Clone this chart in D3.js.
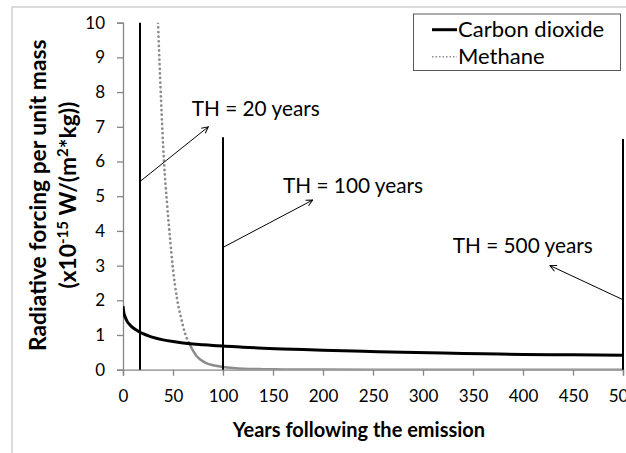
<!DOCTYPE html>
<html>
<head>
<meta charset="utf-8">
<script src="https://cdn.jsdelivr.net/npm/d3@7"></script>
<style>
  body { margin: 0; background: #fff; }
  text { font-family: Lato, "Open Sans", sans-serif; }
</style>
</head>
<body>
<div id="chart"></div>
<script>
// values
const co2Years = [0, 1, 2, 4, 7, 10, 13, 17, 20, 25, 30, 40, 50, 60, 70, 80, 90, 100, 120, 140, 160, 180, 200, 240, 280, 320, 360, 400, 450, 500];
const co2Values = [1.83, 1.62, 1.53, 1.40, 1.29, 1.21, 1.15, 1.08, 1.04, 0.98, 0.93, 0.86, 0.81, 0.77, 0.74, 0.72, 0.70, 0.68, 0.65, 0.62, 0.60, 0.58, 0.56, 0.53, 0.50, 0.48, 0.46, 0.44, 0.43, 0.42];

const ch4Years = [35, 38, 41, 44, 47, 50, 54, 58, 62, 66, 70, 74, 80, 85, 90, 100, 110, 120, 140, 160, 200, 300, 400, 500];
const ch4Values = [10, 7.8, 6.0, 4.8, 3.8, 2.9, 2.05, 1.5, 1.05, 0.77, 0.55, 0.38, 0.24, 0.17, 0.13, 0.08, 0.05, 0.03, 0.015, 0.008, 0.003, 0, 0, 0];
const ch4DottedUntil = 66;

const horizonYears = [17, 100, 500];
const horizonTops = [10, 6.7, 6.65];
const horizonLabels = ["TH = 20 years", "TH = 100 years", "TH = 500 years"];
// arrow from [year, value] to [year, value], label anchor [year, value]
const arrowFrom = [[17.7, 5.44], [101, 3.54], [499, 2.03]];
const arrowTo = [[85.3, 7.0], [189.7, 4.89], [427, 3.0]];
const labelAt = [[68.7, 7.32], [160, 5.09], [329.7, 3.35]];

const xTicks = [0, 50, 100, 150, 200, 250, 300, 350, 400, 450, 500];
const yTicks = [0, 1, 2, 3, 4, 5, 6, 7, 8, 9, 10];
const seriesNames = ["Carbon dioxide", "Methane"];

const width = 626, height = 453;
const plot = { left: 123, right: 623, top: 22.7, bottom: 369.7 };

const svg = d3.select("#chart").append("svg")
  .attr("width", width).attr("height", height);

// outer chart border
svg.append("rect")
  .attr("x", 12).attr("y", 7).attr("width", 700).attr("height", 500)
  .attr("fill", "none").attr("stroke", "#cfcfcf").attr("stroke-width", 1.5);

const x = d3.scaleLinear().domain([0, 500]).range([plot.left, plot.right]);
const y = d3.scaleLinear().domain([0, 10]).range([plot.bottom, plot.top]);

const defs = svg.append("defs");
defs.append("clipPath").attr("id", "plot-clip")
  .append("rect")
  .attr("x", plot.left).attr("y", plot.top)
  .attr("width", plot.right - plot.left + 2).attr("height", plot.bottom - plot.top);

defs.append("marker")
  .attr("id", "arrow")
  .attr("viewBox", "0 0 10 10")
  .attr("refX", 9).attr("refY", 5)
  .attr("markerWidth", 8).attr("markerHeight", 8)
  .attr("markerUnits", "userSpaceOnUse")
  .attr("orient", "auto")
  .append("path")
  .attr("d", "M1,1 L9,5 L1,9")
  .attr("fill", "none").attr("stroke", "#000").attr("stroke-width", 1.2);

// axes
const xAxis = svg.append("g")
  .attr("transform", `translate(0,${plot.bottom})`)
  .call(d3.axisBottom(x).tickValues(xTicks).tickSize(6).tickPadding(14));
const yAxis = svg.append("g")
  .attr("transform", `translate(${plot.left},0)`)
  .call(d3.axisLeft(y).tickValues(yTicks).tickSize(6).tickPadding(12));

[xAxis, yAxis].forEach((g) => {
  g.select(".domain").attr("stroke", "#868686").attr("stroke-width", 1.3);
  g.selectAll(".tick line").attr("stroke", "#868686").attr("stroke-width", 1.3);
  g.selectAll(".tick text")
    .attr("font-family", "Lato, sans-serif")
    .attr("font-size", 17)
    .attr("fill", "#000");
});

// series
const co2 = co2Years.map((yr, i) => [yr, co2Values[i]]);
const ch4 = ch4Years.map((yr, i) => [yr, ch4Values[i]]);

const line = d3.line()
  .x((d) => x(d[0]))
  .y((d) => y(d[1]))
  .curve(d3.curveMonotoneX);

const lines = svg.append("g").attr("clip-path", "url(#plot-clip)");

lines.append("path")
  .datum(ch4.filter((d) => d[0] >= ch4DottedUntil))
  .attr("d", line)
  .attr("fill", "none")
  .attr("stroke", "#8c8c8c")
  .attr("stroke-width", 2.5);

lines.append("path")
  .datum(ch4.filter((d) => d[0] <= ch4DottedUntil))
  .attr("d", line)
  .attr("fill", "none")
  .attr("stroke", "#8c8c8c")
  .attr("stroke-width", 2.7)
  .attr("stroke-linecap", "round")
  .attr("stroke-dasharray", "0.1 4.5");

lines.append("path")
  .datum(co2)
  .attr("d", line)
  .attr("fill", "none")
  .attr("stroke", "#000")
  .attr("stroke-width", 3);

// time horizon markers
horizonYears.forEach((yr, i) => {
  svg.append("line")
    .attr("x1", x(yr)).attr("x2", x(yr))
    .attr("y1", y(0)).attr("y2", y(horizonTops[i]))
    .attr("stroke", "#000").attr("stroke-width", 2);

  svg.append("line")
    .attr("x1", x(arrowFrom[i][0])).attr("y1", y(arrowFrom[i][1]))
    .attr("x2", x(arrowTo[i][0])).attr("y2", y(arrowTo[i][1]))
    .attr("stroke", "#000").attr("stroke-width", 1)
    .attr("marker-end", "url(#arrow)");

  svg.append("text")
    .attr("x", x(labelAt[i][0])).attr("y", y(labelAt[i][1]))
    .attr("font-size", 20.8)
    .attr("fill", "#000")
    .text(horizonLabels[i]);
});

// axis titles
svg.append("text")
  .attr("x", 359).attr("y", 437)
  .attr("text-anchor", "middle")
  .attr("font-size", 20)
  .attr("font-weight", "bold")
  .text("Years following the emission");

const yTitle = svg.append("text")
  .attr("transform", `translate(0,${(plot.top + plot.bottom) / 2 - 1}) rotate(-90)`)
  .attr("text-anchor", "middle")
  .attr("font-size", 22.8)
  .attr("font-weight", "bold");
yTitle.append("tspan").attr("x", 0).attr("y", 46).text("Radiative forcing per unit mass");
const l2 = yTitle.append("tspan").attr("x", 0).attr("y", 76);
l2.append("tspan").text("(x10");
l2.append("tspan").attr("dy", -8).attr("font-size", 15).text("-15");
l2.append("tspan").attr("dy", 8).text(" W/(m");
l2.append("tspan").attr("dy", -8).attr("font-size", 15).text("2");
l2.append("tspan").attr("dy", 8).text("*kg))");

// legend
const legend = svg.append("g");
legend.append("rect")
  .attr("x", 413.5).attr("y", 14).attr("width", 207).attr("height", 56.5)
  .attr("fill", "#fff").attr("stroke", "#595959").attr("stroke-width", 1);

seriesNames.forEach((name, i) => {
  const ly = 29.7 + i * 27;
  legend.append("line")
    .attr("x1", 432).attr("x2", 457).attr("y1", ly).attr("y2", ly)
    .attr("stroke", i === 0 ? "#000" : "#8c8c8c")
    .attr("stroke-width", i === 0 ? 3 : 1.5)
    .attr("stroke-dasharray", i === 0 ? null : "1.5 2");
  legend.append("text")
    .attr("x", 458).attr("y", ly + 7)
    .attr("font-size", 22)
    .text(name);
});
</script>
</body>
</html>
